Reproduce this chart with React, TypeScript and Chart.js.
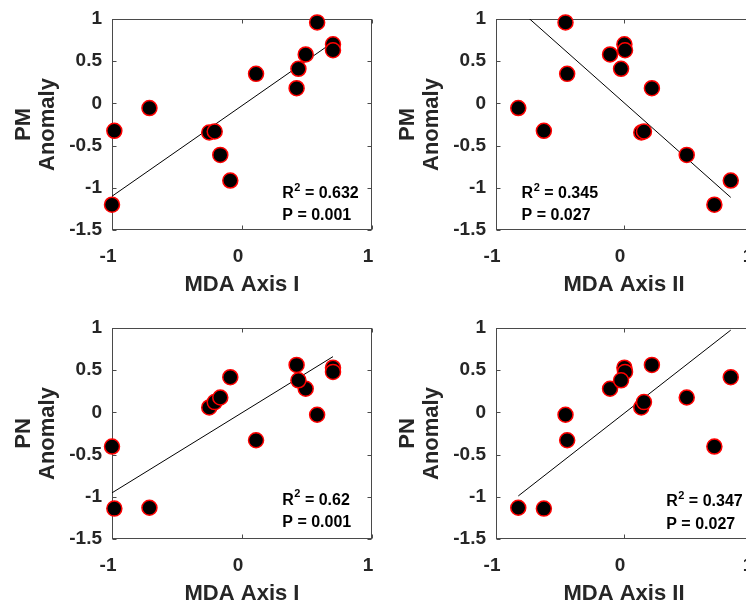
import React, { useEffect, useRef } from 'react';
import { Chart, registerables } from 'chart.js';

Chart.register(...registerables);

// ---- data ----
const axisI = [0.578, 0.70, 0.70, 0.49, 0.434, 0.42, 0.108, -0.712, -0.982, -0.252, -0.21, -0.167, -0.09, -1.0];
const axisII = [-0.457, 0.003, 0.008, -0.109, -0.023, 0.218, -0.444, -0.826, -0.626, 0.135, 0.156, 0.49, 0.834, 0.706];
const pmAnomaly = [0.96, 0.70, 0.63, 0.58, 0.41, 0.18, 0.35, -0.055, -0.325, -0.345, -0.333, -0.61, -0.914, -1.2];
const pnAnomaly = [-0.028, 0.53, 0.48, 0.28, 0.38, 0.563, -0.33, -1.13, -1.14, 0.059, 0.122, 0.177, 0.417, -0.405];

// fitted line end points (x, y)
const fitPmIX = [-1.0, 0.70];
const fitPmIY = [-1.10, 0.725];
const fitPmIIX = [-0.826, 0.834];
const fitPmIIY = [1.12, -1.114];
const fitPnIX = [-1.0, 0.70];
const fitPnIY = [-0.953, 0.661];
const fitPnIIX = [-0.826, 0.834];
const fitPnIIY = [-0.99, 0.975];

const xTicks = [-1, 0, 1];
const yTicks = [-1.5, -1, -0.5, 0, 0.5, 1];

const statsR2 = ['0.632', '0.345', '0.62', '0.347'];
const statsP = ['0.001', '0.027', '0.001', '0.027'];

const FONT = "'Liberation Sans', Arial, Helvetica, sans-serif";
const INK = '#262626';

type PanelCfg = {
  xs: number[];
  ys: number[];
  fx: number[];
  fy: number[];
  yName: string;
  xTitle: string;
  r2: string;
  p: string;
  left: number;
  top: number;
  width: number;
  height: number;
  padTop: number;
  padRight: number;
  xAxisH: number;
  xTitlePad: number;
  textX: number;
  textY1: number;
  textY2: number;
};

const panels: PanelCfg[] = [
  { xs: axisI, ys: pmAnomaly, fx: fitPmIX, fy: fitPmIY, yName: 'PM', xTitle: 'MDA Axis I', r2: statsR2[0], p: statsP[0],
    left: 8, top: 8, width: 384, height: 292, padTop: 11, padRight: 20, xAxisH: 70, xTitlePad: 3,
    textX: 0.31, textY1: -1.07, textY2: -1.33 },
  { xs: axisII, ys: pmAnomaly, fx: fitPmIIX, fy: fitPmIIY, yName: 'PM', xTitle: 'MDA Axis II', r2: statsR2[1], p: statsP[1],
    left: 392, top: 8, width: 384, height: 292, padTop: 11, padRight: 24, xAxisH: 70, xTitlePad: 3,
    textX: -0.8, textY1: -1.07, textY2: -1.33 },
  { xs: axisI, ys: pnAnomaly, fx: fitPnIX, fy: fitPnIY, yName: 'PN', xTitle: 'MDA Axis I', r2: statsR2[2], p: statsP[2],
    left: 8, top: 300, width: 384, height: 306, padTop: 28, padRight: 20, xAxisH: 67, xTitlePad: 0,
    textX: 0.31, textY1: -1.04, textY2: -1.31 },
  { xs: axisII, ys: pnAnomaly, fx: fitPnIIX, fy: fitPnIIY, yName: 'PN', xTitle: 'MDA Axis II', r2: statsR2[3], p: statsP[3],
    left: 392, top: 300, width: 384, height: 306, padTop: 28, padRight: 24, xAxisH: 67, xTitlePad: 0,
    textX: 0.33, textY1: -1.06, textY2: -1.33 },
];

const boxPlugin = {
  id: 'matlabBox',
  beforeDatasetsDraw(chart: any) {
    const { ctx, chartArea: a, scales } = chart;
    const L = Math.round(a.left) + 0.5;
    const R = Math.round(a.right) - 0.5;
    const T = Math.round(a.top) + 0.5;
    const B = Math.round(a.bottom) - 0.5;
    ctx.save();
    ctx.strokeStyle = '#4a4a4a';
    ctx.lineWidth = 1;
    ctx.strokeRect(L, T, R - L, B - T);
    const tl = 4;
    ctx.beginPath();
    for (const v of xTicks) {
      const px = Math.round(scales.x.getPixelForValue(v)) + 0.5;
      ctx.moveTo(px, B); ctx.lineTo(px, B - tl);
      ctx.moveTo(px, T); ctx.lineTo(px, T + tl);
    }
    for (const v of yTicks) {
      const py = Math.round(scales.y.getPixelForValue(v)) + 0.5;
      ctx.moveTo(L, py); ctx.lineTo(L + tl, py);
      ctx.moveTo(R, py); ctx.lineTo(R - tl, py);
    }
    ctx.stroke();
    ctx.restore();
  },
  afterDatasetsDraw(chart: any, _args: any, opts: any) {
    const { ctx, scales } = chart;
    const x = scales.x.getPixelForValue(opts.tx);
    const y1 = scales.y.getPixelForValue(opts.ty1);
    const y2 = scales.y.getPixelForValue(opts.ty2);
    ctx.save();
    ctx.fillStyle = '#000';
    ctx.textBaseline = 'middle';
    ctx.textAlign = 'left';
    ctx.font = `bold 16px ${FONT}`;
    ctx.fillText('R', x, y1);
    let w = ctx.measureText('R').width;
    ctx.font = `bold 11px ${FONT}`;
    ctx.fillText('2', x + w + 0.5, y1 - 6);
    w += ctx.measureText('2').width + 0.5;
    ctx.font = `bold 16px ${FONT}`;
    ctx.fillText(' = ' + opts.r2, x + w, y1);
    ctx.fillText('P = ' + opts.p, x, y2);
    ctx.restore();
  },
};

function Panel({ cfg }: { cfg: PanelCfg }) {
  const ref = useRef<HTMLCanvasElement | null>(null);
  useEffect(() => {
    if (!ref.current) return;
    const points = cfg.xs.map((x, i) => ({ x, y: cfg.ys[i] }));
    const fit = cfg.fx.map((x, i) => ({ x, y: cfg.fy[i] }));
    const chart = new Chart(ref.current, {
      type: 'scatter',
      data: {
        datasets: [
          {
            data: points,
            backgroundColor: '#000000',
            borderColor: '#ff0000',
            borderWidth: 1.5,
            pointRadius: 7.5,
            pointHoverRadius: 7.5,
            clip: false,
            order: 0,
          } as any,
          {
            data: fit,
            showLine: true,
            borderColor: '#000000',
            borderWidth: 1,
            pointRadius: 0,
            order: 1,
          } as any,
        ],
      },
      options: {
        animation: false,
        responsive: false,
        events: [],
        layout: { padding: { top: cfg.padTop, right: cfg.padRight, left: 0, bottom: 0 } },
        plugins: {
          legend: { display: false },
          tooltip: { enabled: false },
          matlabBox: { tx: cfg.textX, ty1: cfg.textY1, ty2: cfg.textY2, r2: cfg.r2, p: cfg.p },
        } as any,
        scales: {
          x: {
            type: 'linear',
            min: -1,
            max: 1,
            afterBuildTicks: (s: any) => { s.ticks = xTicks.map((v) => ({ value: v })); },
            afterFit: (s: any) => { s.height = cfg.xAxisH; s.paddingLeft = 0; s.paddingRight = 0; },
            ticks: {
              autoSkip: false,
              maxRotation: 0,
              padding: 15,
              labelOffset: -4,
              color: INK,
              font: { family: FONT, size: 19, weight: 'bold' },
              callback: (v: any) => String(v),
            },
            grid: { display: false, drawTicks: false },
            border: { display: false },
            title: {
              display: true,
              text: cfg.xTitle,
              color: INK,
              font: { family: FONT, size: 22, weight: 'bold', lineHeight: 1.1 },
              padding: { top: 0, bottom: cfg.xTitlePad },
            },
          },
          y: {
            type: 'linear',
            min: -1.5,
            max: 1,
            afterBuildTicks: (s: any) => { s.ticks = yTicks.map((v) => ({ value: v })); },
            afterFit: (s: any) => { s.width = 104; s.paddingTop = 0; s.paddingBottom = 0; },
            ticks: {
              autoSkip: false,
              padding: 10,
              color: INK,
              font: { family: FONT, size: 19, weight: 'bold' },
              callback: (v: any) => String(v),
            },
            grid: { display: false, drawTicks: false },
            border: { display: false },
            title: {
              display: true,
              text: [cfg.yName, 'Anomaly'],
              color: INK,
              font: { family: FONT, size: 22, weight: 'bold', lineHeight: 1.1 },
              padding: { top: 4, bottom: 0 },
            },
          },
        },
      } as any,
      plugins: [boxPlugin],
    });
    return () => chart.destroy();
  }, [cfg]);
  return (
    <canvas
      ref={ref}
      width={cfg.width}
      height={cfg.height}
      style={{ position: 'absolute', left: cfg.left, top: cfg.top, width: cfg.width, height: cfg.height }}
    />
  );
}

export default function App() {
  return (
    <div
      style={{
        position: 'fixed',
        left: 0,
        top: 0,
        width: 746,
        height: 606,
        overflow: 'hidden',
        background: '#ffffff',
      }}
    >
      {panels.map((cfg, i) => (
        <Panel key={i} cfg={cfg} />
      ))}
    </div>
  );
}
